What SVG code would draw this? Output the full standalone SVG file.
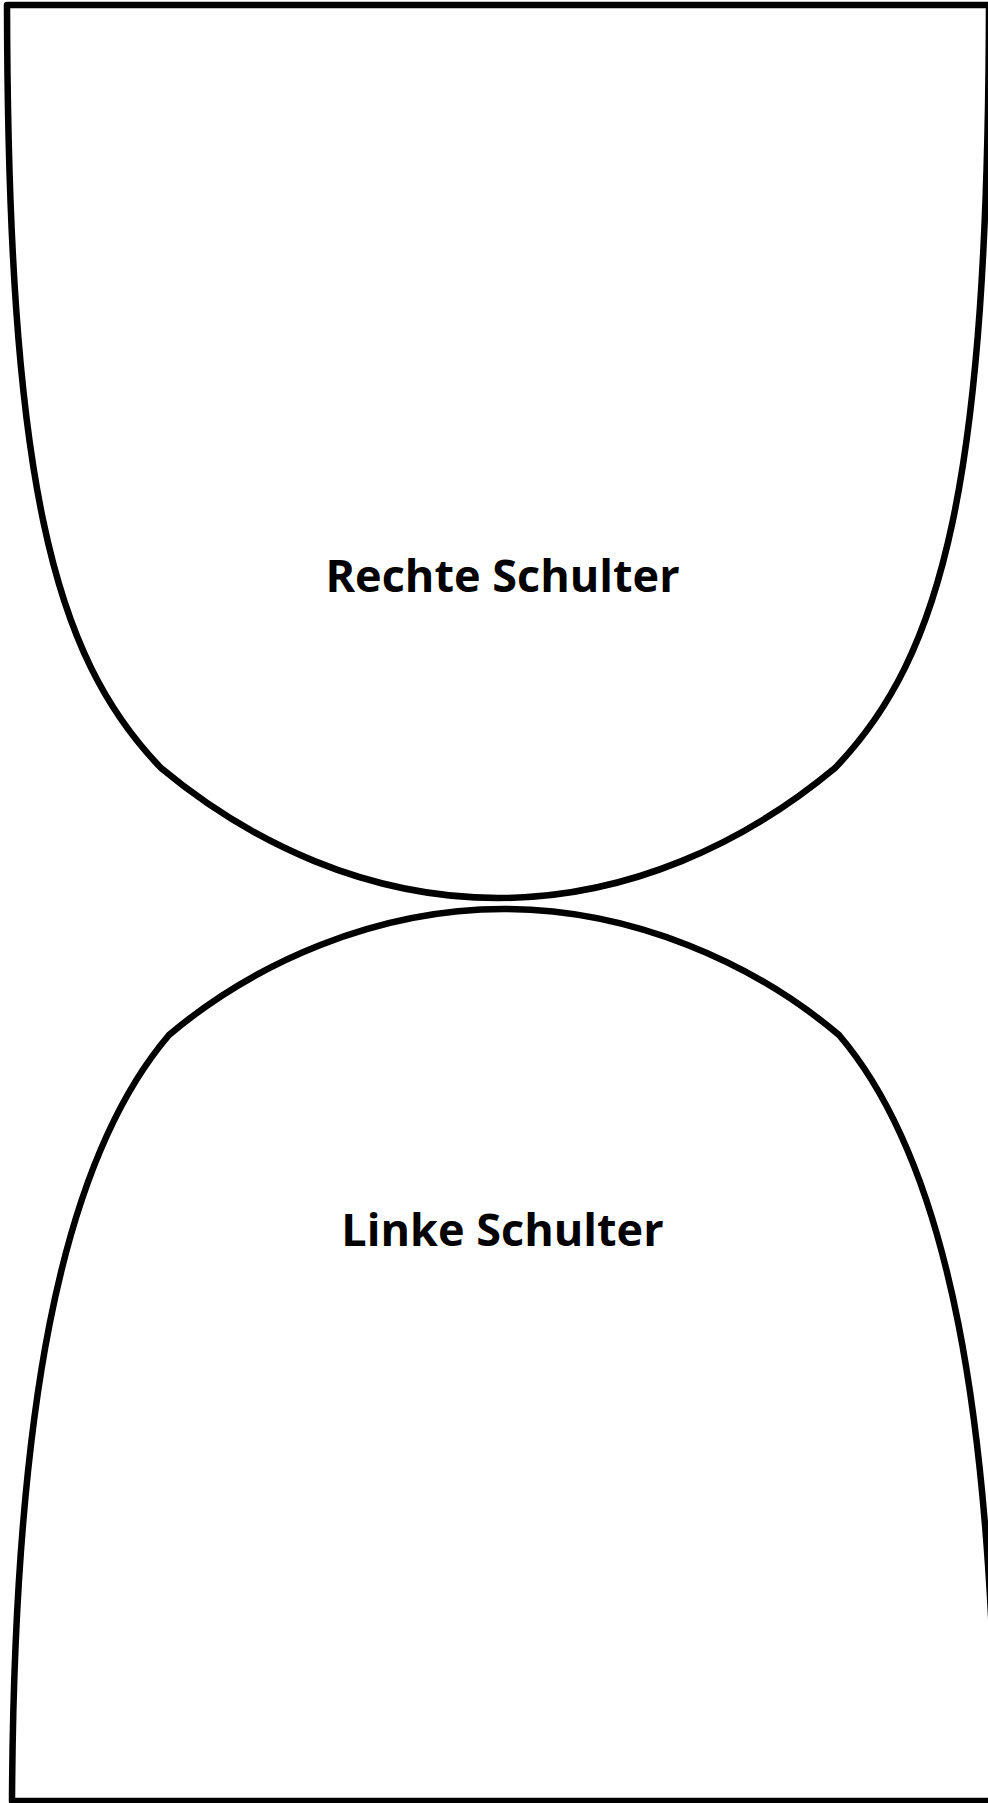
<svg xmlns="http://www.w3.org/2000/svg" width="988" height="1803" viewBox="0 0 988 1803">
<style>
.outline{fill:none;stroke:#000;stroke-width:6.5;stroke-linejoin:round}
.lbl{font-family:"Open Sans","Noto Sans","Liberation Sans",sans-serif;font-weight:bold;font-size:45px;fill:#000;text-anchor:middle}
</style>
<rect width="988" height="1803" fill="#fff"/>
<g id="rechte-schulter">
<path class="outline" d="M 498,898 C 368,898 251,843 161,768 C 52,655 8,480 7,5 L 989,5 C 988,480 944,655 835,768 C 745,843 628,898 498,898 Z"/>
<text class="lbl" x="502.5" y="592">Rechte Schulter</text>
</g>
<g id="linke-schulter">
<path class="outline" d="M 504,909 C 376,909 254,963 169,1035 C 58,1165 14,1420 12,1801 L 996,1801 C 994,1420 950,1165 839,1035 C 754,963 632,909 504,909 Z"/>
<text class="lbl" x="502.5" y="1246">Linke Schulter</text>
</g>
</svg>
